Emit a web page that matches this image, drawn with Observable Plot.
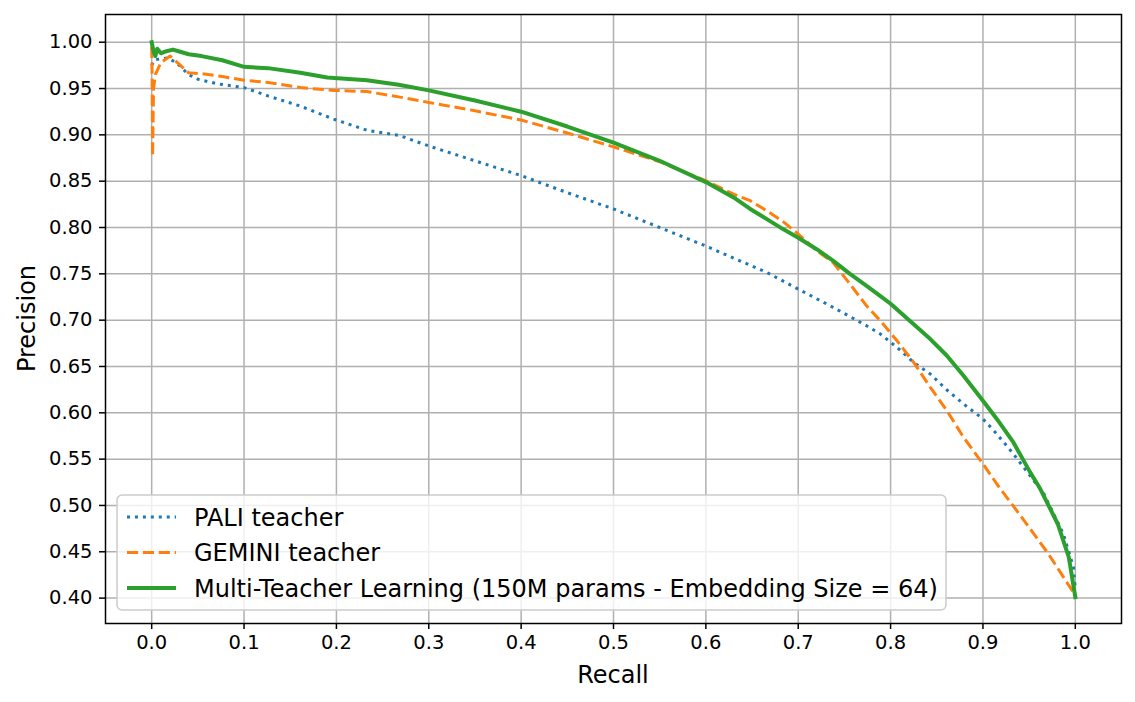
<!DOCTYPE html>
<html>
<head>
<meta charset="utf-8">
<script src="https://cdn.jsdelivr.net/npm/d3@7"></script>
<script src="https://cdn.jsdelivr.net/npm/@observablehq/plot@0.6"></script>
<style>
  html, body { margin: 0; padding: 0; background: #fff; }
  #chart svg { display: block; }
</style>
</head>
<body>
<div id="chart"></div>
<script>
// ---- Data ----
const seriesNames = ["PALI teacher", "GEMINI teacher", "Multi-Teacher Learning (150M params - Embedding Size = 64)"];

const paliRecall    = [0, 0.003, 0.017, 0.0267, 0.04, 0.05, 0.072, 0.1, 0.126, 0.161, 0.197, 0.233, 0.2675, 0.3, 0.35, 0.4, 0.45, 0.5, 0.55, 0.6, 0.63, 0.666, 0.7, 0.738, 0.774, 0.789, 0.807, 0.825, 0.843, 0.861, 0.879, 0.9, 0.915, 0.933, 0.966, 0.987, 0.998, 1.0];
const paliPrecision = [0.975, 0.981, 0.983, 0.978, 0.965, 0.960, 0.955, 0.951, 0.942, 0.931, 0.917, 0.905, 0.8995, 0.888, 0.872, 0.856, 0.8376, 0.820, 0.800, 0.780, 0.767, 0.7515, 0.7335, 0.7137, 0.694, 0.685, 0.6705, 0.6544, 0.6419, 0.6246, 0.6096, 0.5934, 0.5772, 0.5556, 0.5125, 0.4694, 0.4334, 0.41];

const geminiRecall    = [0, 0.0005, 0.001, 0.002, 0.004, 0.01, 0.02, 0.03, 0.04, 0.054, 0.0765, 0.1, 0.126, 0.161, 0.197, 0.233, 0.2675, 0.3, 0.35, 0.4, 0.45, 0.5, 0.55, 0.6, 0.63, 0.648, 0.666, 0.684, 0.7, 0.72, 0.738, 0.756, 0.774, 0.789, 0.807, 0.825, 0.843, 0.861, 0.879, 0.9, 0.918, 0.934, 0.97, 1.0];
const geminiPrecision = [0.995, 0.96, 0.877, 0.95, 0.965, 0.978, 0.985, 0.976, 0.967, 0.966, 0.963, 0.959, 0.9565, 0.951, 0.948, 0.9467, 0.941, 0.935, 0.926, 0.916, 0.902, 0.887, 0.871, 0.8505, 0.836, 0.829, 0.818, 0.806, 0.793, 0.775, 0.762, 0.739, 0.7155, 0.6993, 0.6777, 0.6544, 0.6275, 0.6023, 0.5735, 0.5449, 0.519, 0.498, 0.449, 0.403];

const mtlRecall    = [0, 0.002, 0.004, 0.006, 0.01, 0.015, 0.023, 0.03, 0.04, 0.054, 0.0765, 0.1, 0.126, 0.161, 0.19, 0.233, 0.2675, 0.3, 0.35, 0.4, 0.45, 0.5, 0.55, 0.6, 0.63, 0.648, 0.666, 0.684, 0.7, 0.72, 0.738, 0.756, 0.774, 0.789, 0.8, 0.825, 0.843, 0.861, 0.879, 0.9, 0.915, 0.933, 0.951, 0.962, 0.981, 0.993, 1.0];
const mtlPrecision = [1.0, 0.99, 0.985, 0.993, 0.988, 0.99, 0.992, 0.990, 0.987, 0.985, 0.9805, 0.9734, 0.972, 0.967, 0.962, 0.959, 0.954, 0.948, 0.937, 0.925, 0.909, 0.8917, 0.872, 0.849, 0.8325, 0.82, 0.809, 0.798, 0.789, 0.7766, 0.764, 0.75, 0.737, 0.726, 0.7177, 0.6957, 0.6796, 0.6616, 0.640, 0.6131, 0.5934, 0.568, 0.536, 0.518, 0.480, 0.444, 0.401];

const xTicks = [0, 0.1, 0.2, 0.3, 0.4, 0.5, 0.6, 0.7, 0.8, 0.9, 1.0];
const yTicks = [0.40, 0.45, 0.50, 0.55, 0.60, 0.65, 0.70, 0.75, 0.80, 0.85, 0.90, 0.95, 1.00];
const xLabel = "Recall";
const yLabel = "Precision";

// ---- Build tables ----
const zipRP = (rs, ps) => rs.map((r, i) => ({r, p: ps[i]}));
const pali = zipRP(paliRecall, paliPrecision);
const gemini = zipRP(geminiRecall, geminiPrecision);
const mtl = zipRP(mtlRecall, mtlPrecision);

const styles = [
  {stroke: "#1f77b4", strokeWidth: 3, strokeDasharray: "3,4.95"},
  {stroke: "#ff7f0e", strokeWidth: 3, strokeDasharray: "11.1,4.8"},
  {stroke: "#2ca02c", strokeWidth: 4, strokeDasharray: null}
];

const W = 1135, H = 702;
const mL = 105, mR = 14, mT = 14, mB = 79;
const font = "DejaVu Sans";
const tickFont = 19.5, labelFont = 24;

const chart = Plot.plot({
  width: W, height: H,
  marginLeft: mL, marginRight: mR, marginTop: mT, marginBottom: mB,
  style: {fontFamily: font, fontSize: tickFont + "px", color: "#000", background: "#fff"},
  x: {domain: [-0.05, 1.05], label: null},
  y: {domain: [0.3726, 1.0299], label: null},
  marks: [
    Plot.gridX(xTicks, {stroke: "#b0b0b0", strokeOpacity: 1, strokeWidth: 1.5}),
    Plot.gridY(yTicks, {stroke: "#b0b0b0", strokeOpacity: 1, strokeWidth: 1.5}),
    Plot.line(pali, {x: "r", y: "p", ...styles[0], strokeLinecap: "butt", strokeLinejoin: "round", clip: true}),
    Plot.line(gemini, {x: "r", y: "p", ...styles[1], strokeLinecap: "butt", strokeLinejoin: "round", clip: true}),
    Plot.line(mtl, {x: "r", y: "p", ...styles[2], strokeLinecap: "square", strokeLinejoin: "round", clip: true}),
    Plot.frame({stroke: "#000", strokeWidth: 1.5}),
    Plot.axisX(xTicks, {tickFormat: d3.format(".1f"), tickSize: 6, tickPadding: 6, fontSize: tickFont, stroke: "#000", strokeWidth: 1.5, label: null}),
    Plot.axisY(yTicks, {tickFormat: d3.format(".2f"), tickSize: 6, tickPadding: 7, fontSize: tickFont, stroke: "#000", strokeWidth: 1.5, label: null})
  ]
});

document.getElementById("chart").appendChild(chart);

// ---- Axis labels & legend ----
const svg = d3.select(chart);
const plotLeft = mL, plotRight = W - mR, plotTop = mT, plotBottom = H - mB;

svg.append("text")
  .attr("x", (plotLeft + plotRight) / 2)
  .attr("y", plotBottom + 60)
  .attr("text-anchor", "middle")
  .attr("font-family", font).attr("font-size", labelFont).attr("fill", "#000")
  .text(xLabel);

svg.append("text")
  .attr("transform", `translate(${35},${(plotTop + plotBottom) / 2}) rotate(-90)`)
  .attr("text-anchor", "middle")
  .attr("font-family", font).attr("font-size", labelFont).attr("fill", "#000")
  .text(yLabel);

const lg = svg.append("g");
const lgX = plotLeft + 12, lgY = plotBottom - 128, lgW = 829, lgH = 115;
lg.append("rect")
  .attr("x", lgX).attr("y", lgY).attr("width", lgW).attr("height", lgH)
  .attr("rx", 5).attr("fill", "#fff").attr("fill-opacity", 0.8)
  .attr("stroke", "#cccccc").attr("stroke-width", 1.5);
seriesNames.forEach((name, i) => {
  const cy = lgY + 22 + i * 35.5;
  const s = styles[i];
  lg.append("line")
    .attr("x1", lgX + 10).attr("x2", lgX + 59).attr("y1", cy).attr("y2", cy)
    .attr("stroke", s.stroke).attr("stroke-width", s.strokeWidth)
    .attr("stroke-dasharray", s.strokeDasharray)
    .attr("stroke-linecap", "butt");
  lg.append("text")
    .attr("x", lgX + 77).attr("y", cy + 8.5)
    .attr("text-anchor", "start")
    .attr("font-family", font).attr("font-size", labelFont).attr("fill", "#000")
    .text(name);
});
</script>
</body>
</html>
